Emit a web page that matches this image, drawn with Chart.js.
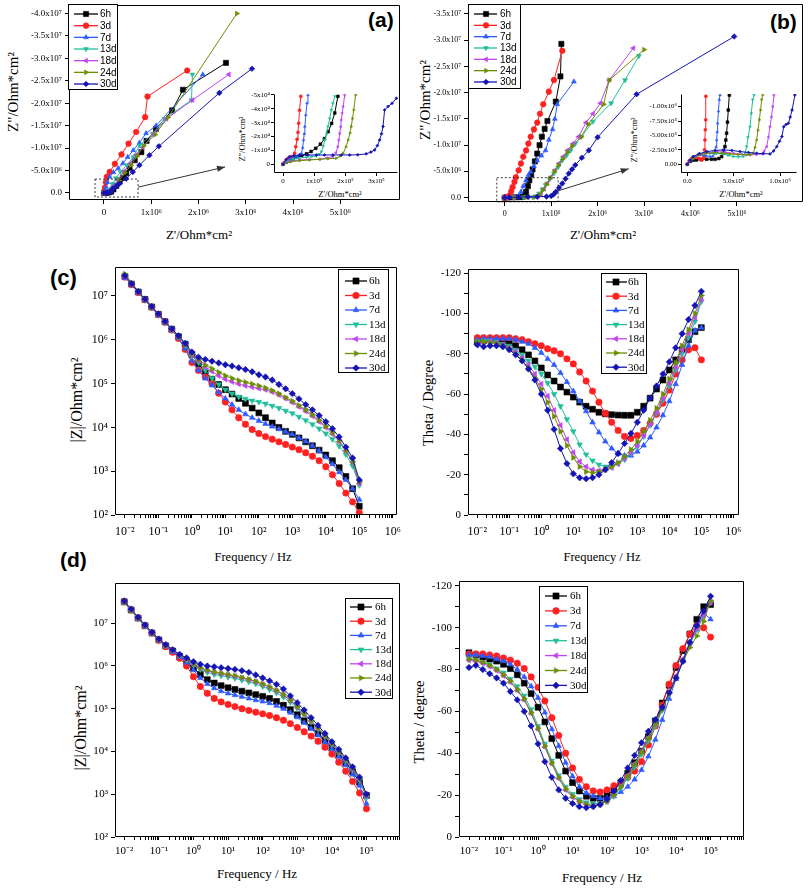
<!DOCTYPE html>
<html>
<head>
<meta charset="utf-8">
<title>EIS Nyquist and Bode plots</title>
<script src="https://cdn.jsdelivr.net/npm/chart.js@4.4.1/dist/chart.umd.min.js"></script>
<style>
  body { margin: 0; background: #fff; }
  #fig { position: relative; width: 808px; height: 888px; overflow: hidden; background: #fff; }
  #fig canvas { position: absolute; }
  .ttl { position: absolute; font-family: "Liberation Serif", "Times New Roman", serif; color: #000; white-space: nowrap; line-height: 1; transform: translate(-50%, -50%); }
  .ttl.rot { transform: translate(-50%, -50%) rotate(-90deg); }
  .tag { position: absolute; font-family: "Liberation Sans", Arial, sans-serif; font-weight: bold; font-size: 21px; line-height: 1; color: #000; }
</style>
</head>
<body>
<div id="fig">
  <div class="ttl rot" style="left:13px;top:92px;font-size:15px">Z"/Ohm*cm²</div>
  <div class="ttl" style="left:199px;top:234px;font-size:13px">Z'/Ohm*cm²</div>
  <div class="ttl rot" style="left:242px;top:139px;font-size:8.5px">Z"/Ohm*cm²</div>
  <div class="ttl" style="left:340px;top:194px;font-size:8.5px">Z'/Ohm*cm²</div>
  <div class="ttl rot" style="left:425px;top:100px;font-size:15px">Z"/Ohm*cm²</div>
  <div class="ttl" style="left:603px;top:234px;font-size:13px">Z'/Ohm*cm²</div>
  <div class="ttl rot" style="left:634px;top:140px;font-size:8.5px">Z"/Ohm*cm²</div>
  <div class="ttl" style="left:741px;top:194px;font-size:8.5px">Z'/Ohm*cm²</div>
  <div class="ttl rot" style="left:77px;top:400px;font-size:16px">|Z|/Ohm*cm²</div>
  <div class="ttl" style="left:253px;top:557px;font-size:12.5px">Frequency / Hz</div>
  <div class="ttl rot" style="left:428px;top:403px;font-size:14.5px">Theta / Degree</div>
  <div class="ttl" style="left:602px;top:557px;font-size:12.5px">Frequency / Hz</div>
  <div class="ttl rot" style="left:81px;top:728px;font-size:16px">|Z|/Ohm*cm²</div>
  <div class="ttl" style="left:257px;top:873px;font-size:13px">Frequency / Hz</div>
  <div class="ttl rot" style="left:419px;top:722px;font-size:14.5px">Theta / degree</div>
  <div class="ttl" style="left:602px;top:877px;font-size:13px">Frequency / Hz</div>
  <div class="tag" style="left:368px;top:9px">(a)</div>
  <div class="tag" style="left:770px;top:11px">(b)</div>
  <div class="tag" style="left:50px;top:267px;font-size:22px">(c)</div>
  <div class="tag" style="left:60px;top:549px">(d)</div>
</div>
<script>
'use strict';

Chart.defaults.font.family = '"Liberation Serif", "Times New Roman", serif';
Chart.defaults.color = '#000';

// series
const seriesNames = ['6h', '3d', '7d', '13d', '18d', '24d', '30d'];
const seriesColors = ['#000000', '#ff2020', '#2e5bff', '#20bf9c', '#c244f0', '#6c8f00', '#1414b4'];
const seriesMarkers = ['rect', 'circle', 'triangle', 'triangle', 'triangle', 'triangle', 'rectRot'];
const seriesMarkerTurn = [0, 0, 0, 180, 270, 90, 0];

// ---- (a) Nyquist, Z' and -Z'' (Ohm*cm2)
const reA6h = [0, 0.05e6, 0.1e6, 0.15e6, 0.2e6, 0.26e6, 0.33e6, 0.4e6, 0.47e6, 0.54e6, 0.65e6, 0.79e6, 0.9e6, 1.1e6, 1.44e6, 1.67e6, 2.58e6];
const imA6h = [0, 0.003e7, 0.01e7, 0.03e7, 0.08e7, 0.16e7, 0.25e7, 0.34e7, 0.44e7, 0.56e7, 0.73e7, 0.91e7, 1.16e7, 1.43e7, 1.84e7, 2.3e7, 2.9e7];
const reA3d = [0, 0.01e6, 0.02e6, 0.04e6, 0.06e6, 0.12e6, 0.23e6, 0.37e6, 0.52e6, 0.68e6, 0.87e6, 0.92e6, 1.76e6];
const imA3d = [0, 0.05e7, 0.12e7, 0.24e7, 0.36e7, 0.47e7, 0.65e7, 0.86e7, 1.1e7, 1.36e7, 1.69e7, 2.15e7, 2.73e7];
const reA7d = [0, 0.02e6, 0.04e6, 0.07e6, 0.12e6, 0.2e6, 0.3e6, 0.4e6, 0.5e6, 0.62e6, 0.75e6, 0.89e6, 1.1e6, 2.09e6];
const imA7d = [0, 0.04e7, 0.12e7, 0.24e7, 0.36e7, 0.46e7, 0.55e7, 0.66e7, 0.8e7, 0.95e7, 1.12e7, 1.33e7, 1.5e7, 2.64e7];
const reA13d = [0, 0.05e6, 0.1e6, 0.18e6, 0.25e6, 0.35e6, 0.48e6, 0.62e6, 0.75e6, 1.03e6, 1.28e6, 1.85e6, 1.87e6];
const imA13d = [0, 0.03e7, 0.08e7, 0.2e7, 0.33e7, 0.47e7, 0.62e7, 0.8e7, 1.06e7, 1.32e7, 1.65e7, 2.07e7, 2.64e7];
const reA18d = [0, 0.06e6, 0.12e6, 0.2e6, 0.3e6, 0.42e6, 0.55e6, 0.68e6, 0.82e6, 1.05e6, 1.32e6, 1.87e6, 2.64e6];
const imA18d = [0, 0.02e7, 0.06e7, 0.15e7, 0.3e7, 0.48e7, 0.65e7, 0.85e7, 1.02e7, 1.32e7, 1.65e7, 2.07e7, 2.64e7];
const reA24d = [0, 0.07e6, 0.14e6, 0.22e6, 0.32e6, 0.44e6, 0.57e6, 0.7e6, 0.84e6, 1.08e6, 1.35e6, 2.81e6];
const imA24d = [0, 0.01e7, 0.04e7, 0.12e7, 0.28e7, 0.45e7, 0.62e7, 0.82e7, 1.05e7, 1.3e7, 1.68e7, 4.0e7];
const reA30d = [0, 0.04e6, 0.08e6, 0.12e6, 0.16e6, 0.19e6, 0.26e6, 0.33e6, 0.47e6, 0.61e6, 0.75e6, 0.96e6, 1.16e6, 2.44e6, 3.13e6];
const imA30d = [0, 0.005e7, 0.01e7, 0.02e7, 0.04e7, 0.1e7, 0.15e7, 0.21e7, 0.32e7, 0.47e7, 0.62e7, 0.84e7, 1.04e7, 2.23e7, 2.77e7];

// (a) inset
const reAi6h = [0, 0.1e5, 0.2e5, 0.32e5, 0.45e5, 0.6e5, 0.75e5, 0.9e5, 1.05e5, 1.2e5, 1.33e5, 1.45e5, 1.56e5, 1.66e5, 1.76e5];
const imAi6h = [0, 0.15e4, 0.28e4, 0.38e4, 0.5e4, 0.62e4, 0.75e4, 0.92e4, 1.15e4, 1.45e4, 1.85e4, 2.35e4, 2.95e4, 3.7e4, 4.9e4];
const reAi3d = [0, 0.05e5, 0.11e5, 0.16e5, 0.21e5, 0.27e5, 0.32e5, 0.37e5, 0.41e5, 0.45e5, 0.48e5, 0.5e5, 0.53e5, 0.57e5];
const imAi3d = [0, 0.15e4, 0.31e4, 0.42e4, 0.5e4, 0.54e4, 0.55e4, 0.8e4, 1.27e4, 1.8e4, 2.3e4, 2.96e4, 3.9e4, 4.9e4];
const reAi7d = [0, 0.1e5, 0.21e5, 0.32e5, 0.43e5, 0.52e5, 0.59e5, 0.63e5, 0.66e5, 0.68e5, 0.7e5, 0.73e5, 0.77e5, 0.8e5];
const imAi7d = [0, 0.2e4, 0.36e4, 0.47e4, 0.55e4, 0.66e4, 0.79e4, 1.2e4, 1.75e4, 2.2e4, 2.72e4, 3.56e4, 4.4e4, 5.0e4];
const reAi13d = [0, 0.15e5, 0.32e5, 0.5e5, 0.75e5, 0.92e5, 1.07e5, 1.16e5, 1.23e5, 1.29e5, 1.34e5, 1.4e5, 1.44e5, 1.5e5, 1.55e5, 1.6e5, 1.66e5];
const imAi13d = [0, 0.22e4, 0.36e4, 0.44e4, 0.5e4, 0.55e4, 0.6e4, 0.72e4, 0.91e4, 1.3e4, 1.75e4, 2.2e4, 2.72e4, 3.3e4, 3.92e4, 4.4e4, 4.9e4];
const reAi18d = [0, 0.2e5, 0.53e5, 0.85e5, 1.18e5, 1.4e5, 1.6e5, 1.7e5, 1.76e5, 1.79e5, 1.82e5, 1.85e5, 1.87e5, 1.9e5, 1.93e5, 1.98e5];
const imAi18d = [0, 0.2e4, 0.31e4, 0.34e4, 0.36e4, 0.45e4, 0.55e4, 0.85e4, 1.27e4, 1.75e4, 2.23e4, 2.7e4, 3.2e4, 3.7e4, 4.16e4, 5.0e4];
const reAi24d = [0, 0.25e5, 0.53e5, 0.85e5, 1.18e5, 1.45e5, 1.71e5, 1.83e5, 1.93e5, 2.02e5, 2.09e5, 2.15e5, 2.19e5, 2.23e5, 2.27e5, 2.33e5];
const imAi24d = [0, 0.18e4, 0.26e4, 0.31e4, 0.36e4, 0.4e4, 0.43e4, 0.58e4, 0.79e4, 1.25e4, 1.75e4, 2.25e4, 2.72e4, 3.3e4, 3.92e4, 5.0e4];
const reAi30d = [0, 0.1e5, 0.21e5, 0.35e5, 0.53e5, 0.8e5, 1.07e5, 1.33e5, 1.6e5, 1.87e5, 2.14e5, 2.4e5, 2.67e5, 2.82e5, 2.94e5, 3.03e5, 3.1e5, 3.16e5, 3.21e5, 3.26e5, 3.37e5, 3.5e5, 3.64e5];
const imAi30d = [0, 0.35e4, 0.55e4, 0.62e4, 0.67e4, 0.67e4, 0.67e4, 0.67e4, 0.67e4, 0.67e4, 0.67e4, 0.68e4, 0.75e4, 0.88e4, 1.03e4, 1.35e4, 1.75e4, 2.2e4, 2.72e4, 3.92e4, 4.16e4, 4.4e4, 4.76e4];

// ---- (b) Nyquist
const reB6h = [0, 0.05e6, 0.15e6, 0.25e6, 0.35e6, 0.4e6, 0.44e6, 0.46e6, 0.5e6, 0.53e6, 0.57e6, 0.6e6, 0.65e6, 0.7e6, 0.75e6, 0.8e6, 0.86e6, 0.92e6, 1.1e6, 1.2e6, 1.22e6];
const imB6h = [0, 0.005e7, 0.005e7, 0.008e7, 0.01e7, 0.02e7, 0.05e7, 0.11e7, 0.22e7, 0.33e7, 0.44e7, 0.54e7, 0.69e7, 0.84e7, 1.0e7, 1.16e7, 1.31e7, 1.46e7, 1.83e7, 2.31e7, 2.93e7];
const reB3d = [0, 0.05e6, 0.1e6, 0.14e6, 0.17e6, 0.21e6, 0.24e6, 0.3e6, 0.35e6, 0.4e6, 0.46e6, 0.51e6, 0.56e6, 0.63e6, 0.7e6, 0.76e6, 0.83e6, 0.95e6, 1.06e6, 1.24e6];
const imB3d = [0, 0.005e7, 0.04e7, 0.12e7, 0.2e7, 0.3e7, 0.39e7, 0.52e7, 0.65e7, 0.78e7, 0.9e7, 1.03e7, 1.16e7, 1.3e7, 1.43e7, 1.6e7, 1.78e7, 2.02e7, 2.24e7, 2.8e7];
const reB7d = [0, 0.1e6, 0.2e6, 0.3e6, 0.35e6, 0.4e6, 0.46e6, 0.51e6, 0.56e6, 0.63e6, 0.7e6, 0.79e6, 0.88e6, 0.95e6, 1.03e6, 1.08e6, 1.13e6, 1.49e6];
const imB7d = [0, 0.005e7, 0.01e7, 0.03e7, 0.11e7, 0.22e7, 0.33e7, 0.43e7, 0.49e7, 0.6e7, 0.71e7, 0.8e7, 0.9e7, 1.1e7, 1.3e7, 1.5e7, 1.78e7, 2.21e7];
const reB13d = [0, 0.2e6, 0.4e6, 0.6e6, 0.7e6, 0.74e6, 0.81e6, 0.88e6, 0.97e6, 1.06e6, 1.15e6, 1.24e6, 1.33e6, 1.42e6, 1.52e6, 1.65e6, 1.9e6, 2.29e6, 2.59e6, 2.89e6];
const imB13d = [0, 0.005e7, 0.008e7, 0.01e7, 0.03e7, 0.08e7, 0.16e7, 0.24e7, 0.35e7, 0.46e7, 0.58e7, 0.71e7, 0.8e7, 0.9e7, 1.03e7, 1.16e7, 1.45e7, 1.8e7, 2.24e7, 2.7e7];
const reB18d = [0, 0.2e6, 0.5e6, 0.7e6, 0.78e6, 0.85e6, 0.92e6, 0.99e6, 1.08e6, 1.17e6, 1.26e6, 1.35e6, 1.47e6, 1.59e6, 1.75e6, 1.9e6, 2.06e6, 2.25e6, 2.77e6];
const imB18d = [0, 0.005e7, 0.01e7, 0.02e7, 0.06e7, 0.17e7, 0.28e7, 0.39e7, 0.52e7, 0.65e7, 0.78e7, 0.9e7, 1.03e7, 1.16e7, 1.43e7, 1.6e7, 1.8e7, 2.24e7, 2.85e7];
const reB24d = [0, 0.2e6, 0.45e6, 0.65e6, 0.75e6, 0.82e6, 0.9e6, 0.98e6, 1.07e6, 1.16e6, 1.25e6, 1.35e6, 1.45e6, 1.65e6, 1.8e6, 2.13e6, 2.25e6, 3.0e6];
const imB24d = [0, 0.005e7, 0.008e7, 0.012e7, 0.05e7, 0.14e7, 0.25e7, 0.37e7, 0.5e7, 0.62e7, 0.74e7, 0.86e7, 0.98e7, 1.16e7, 1.4e7, 1.78e7, 2.24e7, 2.82e7];
const reB30d = [0, 0.1e6, 0.3e6, 0.5e6, 0.7e6, 0.9e6, 1.0e6, 1.05e6, 1.1e6, 1.17e6, 1.24e6, 1.31e6, 1.38e6, 1.45e6, 1.52e6, 1.66e6, 1.81e6, 2.0e6, 2.84e6, 4.94e6];
const imB30d = [0, 0.005e7, 0.01e7, 0.015e7, 0.018e7, 0.02e7, 0.03e7, 0.06e7, 0.11e7, 0.19e7, 0.27e7, 0.36e7, 0.46e7, 0.54e7, 0.62e7, 0.76e7, 0.9e7, 1.15e7, 1.97e7, 3.07e7];

// (b) inset
const reBi6h = [0, 0.3e5, 0.65e5, 1.0e5, 1.5e5, 2.09e5, 2.6e5, 2.99e5, 3.4e5, 3.7e5, 3.95e5, 4.06e5, 4.15e5, 4.24e5, 4.33e5, 4.42e5, 4.53e5];
const imBi6h = [0, 0.5e5, 0.7e5, 0.75e5, 0.82e5, 0.87e5, 0.87e5, 0.87e5, 1.0e5, 1.33e5, 2.0e5, 3.06e5, 4.2e5, 5.38e5, 7.3e5, 9.4e5, 12.0e5];
const reBi3d = [0, 0.2e5, 0.47e5, 0.75e5, 1.0e5, 1.3e5, 1.55e5, 1.7e5, 1.8e5, 1.85e5, 1.9e5, 1.94e5, 1.98e5, 2.0e5];
const imBi3d = [0, 0.6e5, 1.04e5, 1.18e5, 1.21e5, 1.0e5, 0.75e5, 0.95e5, 1.33e5, 2.5e5, 4.2e5, 6.0e5, 7.7e5, 11.8e5];
const reBi7d = [0, 0.3e5, 0.65e5, 1.1e5, 1.55e5, 2.0e5, 2.45e5, 2.75e5, 2.99e5, 3.1e5, 3.17e5, 3.22e5, 3.27e5, 3.36e5, 3.45e5, 3.53e5];
const imBi7d = [0, 0.75e5, 1.33e5, 1.55e5, 1.62e5, 1.5e5, 1.33e5, 1.4e5, 1.9e5, 3.0e5, 4.2e5, 5.6e5, 7.1e5, 9.2e5, 11.2e5, 12.0e5];
const reBi13d = [0, 0.45e5, 1.0e5, 1.7e5, 2.45e5, 3.15e5, 3.88e5, 4.4e5, 4.96e5, 5.5e5, 6.04e5, 6.25e5, 6.4e5, 6.55e5, 6.76e5, 6.9e5, 7.05e5, 7.19e5];
const imBi13d = [0, 0.85e5, 1.45e5, 1.75e5, 1.9e5, 1.88e5, 1.8e5, 1.55e5, 1.33e5, 1.3e5, 1.33e5, 2.0e5, 3.06e5, 4.7e5, 6.5e5, 8.8e5, 11.2e5, 12.0e5];
const reBi18d = [0, 0.6e5, 1.37e5, 2.25e5, 3.17e5, 4.05e5, 4.96e5, 5.85e5, 6.76e5, 7.4e5, 8.02e5, 8.3e5, 8.56e5, 8.75e5, 8.92e5, 9.07e5, 9.21e5, 9.35e5];
const imBi18d = [0, 0.95e5, 1.62e5, 2.0e5, 2.2e5, 2.1e5, 1.9e5, 1.75e5, 1.62e5, 1.7e5, 1.8e5, 2.3e5, 3.06e5, 4.7e5, 6.5e5, 8.2e5, 10.0e5, 12.0e5];
const reBi24d = [0, 0.55e5, 1.19e5, 2.0e5, 2.81e5, 3.7e5, 4.6e5, 5.5e5, 6.4e5, 6.8e5, 7.12e5, 7.3e5, 7.48e5, 7.62e5, 7.77e5, 7.9e5, 8.02e5, 8.13e5];
const imBi24d = [0, 0.9e5, 1.62e5, 1.9e5, 2.02e5, 1.95e5, 1.8e5, 1.7e5, 1.62e5, 1.7e5, 1.9e5, 2.9e5, 4.2e5, 5.9e5, 7.7e5, 9.4e5, 11.2e5, 12.0e5];
const reBi30d = [0, 0.3e5, 0.65e5, 1.3e5, 2.09e5, 3.0e5, 3.88e5, 4.8e5, 5.68e5, 6.6e5, 7.48e5, 8.2e5, 8.92e5, 9.3e5, 9.64e5, 9.95e5, 10.2e5, 10.4e5, 10.65e5, 10.9e5, 11.1e5, 11.3e5, 11.6e5];
const imBi30d = [0, 0.7e5, 1.33e5, 1.85e5, 2.2e5, 2.4e5, 2.49e5, 2.4e5, 2.2e5, 2.05e5, 1.9e5, 1.85e5, 1.8e5, 2.3e5, 3.06e5, 4.0e5, 4.8e5, 6.5e5, 6.9e5, 7.1e5, 8.2e5, 9.4e5, 12.0e5];

// ---- Bode: frequency (Hz)
const freq = [0.01, 0.0158, 0.0251, 0.0398, 0.0631, 0.1, 0.158, 0.251, 0.398, 0.631,
  1, 1.58, 2.51, 3.98, 6.31, 10, 15.8, 25.1, 39.8, 63.1,
  100, 158, 251, 398, 631, 1000, 1580, 2510, 3980, 6310,
  10000, 15800, 25100, 39800, 63100, 100000];

// (c) |Z|: log10(|Z| / Ohm*cm2)
const logZc6h = [7.44, 7.27, 7.09, 6.92, 6.75, 6.58, 6.41, 6.24, 6.07, 5.9, 5.66, 5.45, 5.25, 5.1, 4.98, 4.86, 4.76, 4.66, 4.55, 4.44, 4.33, 4.22, 4.1, 4.0, 3.91, 3.84, 3.76, 3.67, 3.58, 3.48, 3.37, 3.24, 3.08, 2.88, 2.6, 2.2];
const logZc3d = [7.43, 7.26, 7.08, 6.91, 6.74, 6.57, 6.4, 6.22, 6.03, 5.78, 5.48, 5.3, 5.15, 5.0, 4.78, 4.58, 4.4, 4.22, 4.07, 3.95, 3.86, 3.79, 3.73, 3.67, 3.61, 3.55, 3.49, 3.42, 3.34, 3.24, 3.1, 2.92, 2.72, 2.5, 2.3, 2.05];
const logZc7d = [7.42, 7.26, 7.08, 6.9, 6.73, 6.56, 6.39, 6.22, 6.04, 5.8, 5.52, 5.3, 5.12, 4.96, 4.8, 4.66, 4.52, 4.4, 4.3, 4.22, 4.15, 4.08, 4.02, 3.96, 3.9, 3.84, 3.76, 3.68, 3.58, 3.46, 3.32, 3.16, 2.98, 2.8, 2.6, 2.35];
const logZc13d = [7.45, 7.27, 7.09, 6.91, 6.74, 6.57, 6.4, 6.23, 6.06, 5.88, 5.64, 5.48, 5.3, 5.12, 4.98, 4.86, 4.77, 4.7, 4.65, 4.61, 4.58, 4.54, 4.49, 4.44, 4.38, 4.32, 4.24, 4.16, 4.07, 3.97, 3.86, 3.73, 3.57, 3.38, 3.12, 2.68];
const logZc18d = [7.44, 7.27, 7.09, 6.91, 6.74, 6.57, 6.4, 6.23, 6.07, 5.9, 5.66, 5.52, 5.38, 5.28, 5.18, 5.1, 5.04, 4.99, 4.95, 4.92, 4.89, 4.86, 4.81, 4.74, 4.66, 4.57, 4.47, 4.37, 4.26, 4.13, 4.0, 3.85, 3.67, 3.46, 3.2, 2.72];
const logZc24d = [7.5, 7.3, 7.1, 6.92, 6.75, 6.58, 6.41, 6.24, 6.08, 5.9, 5.68, 5.55, 5.42, 5.34, 5.26, 5.18, 5.12, 5.07, 5.03, 4.99, 4.95, 4.9, 4.84, 4.77, 4.68, 4.6, 4.5, 4.4, 4.29, 4.16, 4.03, 3.88, 3.7, 3.48, 3.22, 2.76];
const logZc30d = [7.46, 7.28, 7.1, 6.93, 6.76, 6.59, 6.42, 6.25, 6.09, 5.92, 5.72, 5.6, 5.55, 5.51, 5.47, 5.43, 5.4, 5.36, 5.32, 5.27, 5.2, 5.15, 5.08, 4.98, 4.88, 4.77, 4.65, 4.52, 4.4, 4.27, 4.13, 3.97, 3.78, 3.55, 3.3, 2.8];

// (c) phase angle, plotted as |theta| (degrees, axis labelled negative)
const phC6h = [86, 86.5, 87, 87, 86.5, 85.5, 84, 82, 79.5, 76.5, 73, 69.5, 66.5, 63.5, 61, 58.5, 56, 54, 52.5, 51, 50.2, 49.8, 49.6, 49.5, 49.5, 51, 54, 58, 62.5, 67, 72, 77, 82, 87, 91, 93];
const phC3d = [88, 88, 88, 88, 88, 88, 87.5, 87, 86, 85, 84, 82.5, 81.5, 80, 77.5, 75, 71, 66.5, 61.5, 56, 50.5, 46, 42, 39, 38, 39.5, 42, 45.5, 50, 55.5, 62, 70, 77, 82, 83, 77];
const phC7d = [87, 87.5, 87.5, 87.5, 87.5, 87.5, 87, 86, 85, 83, 80.5, 77.5, 74.5, 70.5, 66, 61.5, 56.5, 51.5, 46, 41, 36.5, 33, 30.5, 29.5, 29.5, 31.5, 34.5, 38.5, 43.5, 49.5, 56.5, 65, 74.5, 84, 91.5, 93];
const phC13d = [86, 86.5, 86.5, 86, 85, 84, 82, 79.5, 76.5, 73.5, 70, 65.5, 60, 54, 47.5, 41.5, 35, 30, 27, 25, 24, 24.5, 25.5, 27.5, 30.5, 34, 39, 44.5, 50.5, 57, 64, 72, 80, 88, 96, 106];
const phC18d = [84.5, 85.5, 86, 85.5, 84.5, 83, 81, 78, 74.5, 70, 65, 59, 52, 44.5, 37.5, 31, 26.5, 24, 22.5, 22, 22.5, 23.5, 25.5, 28, 31, 34.5, 39.5, 45, 51, 58, 65.5, 73.5, 82, 90, 98, 107];
const phC24d = [86, 86, 85.5, 85, 84, 82.5, 80, 77, 73, 68, 62.5, 56, 49, 41.5, 34.5, 28.5, 24, 21.5, 21, 21.5, 22.5, 24, 26, 29, 32.5, 36.5, 41.5, 47, 53, 60, 67.5, 75.5, 84, 92, 100, 109];
const phC30d = [84.5, 83.5, 84, 84, 83.5, 82, 79.5, 76.5, 72.5, 67, 60, 52, 42.5, 33, 25.5, 20.5, 18.5, 18, 18.5, 20, 22.5, 26, 30.5, 35.5, 40.5, 46, 52, 58, 64, 70, 76, 83, 90, 97, 104, 111];

// (d) log10 |Z|
const logZd6h = [7.5, 7.31, 7.12, 6.94, 6.77, 6.61, 6.47, 6.35, 6.22, 6.1, 5.95, 5.8, 5.68, 5.6, 5.54, 5.49, 5.45, 5.41, 5.37, 5.33, 5.29, 5.24, 5.17, 5.08, 4.98, 4.86, 4.72, 4.57, 4.42, 4.26, 4.1, 3.92, 3.73, 3.52, 3.28, 2.97];
const logZd3d = [7.5, 7.31, 7.12, 6.94, 6.77, 6.6, 6.45, 6.32, 6.18, 6.0, 5.75, 5.52, 5.36, 5.24, 5.16, 5.1, 5.05, 5.0, 4.96, 4.92, 4.88, 4.84, 4.79, 4.73, 4.65, 4.56, 4.46, 4.36, 4.24, 4.1, 3.94, 3.75, 3.54, 3.3, 3.03, 2.66];
const logZd7d = [7.48, 7.3, 7.11, 6.93, 6.76, 6.6, 6.46, 6.33, 6.21, 6.08, 5.9, 5.72, 5.58, 5.48, 5.41, 5.36, 5.32, 5.28, 5.24, 5.2, 5.17, 5.13, 5.07, 5.0, 4.91, 4.8, 4.67, 4.53, 4.38, 4.22, 4.06, 3.88, 3.68, 3.46, 3.2, 2.78];
const logZd13d = [7.5, 7.31, 7.12, 6.94, 6.78, 6.62, 6.48, 6.36, 6.25, 6.14, 6.02, 5.92, 5.85, 5.8, 5.77, 5.74, 5.71, 5.67, 5.63, 5.58, 5.52, 5.45, 5.37, 5.27, 5.15, 5.01, 4.86, 4.7, 4.53, 4.35, 4.17, 3.98, 3.79, 3.57, 3.33, 2.92];
const logZd18d = [7.51, 7.32, 7.13, 6.95, 6.78, 6.62, 6.48, 6.36, 6.26, 6.15, 6.04, 5.95, 5.89, 5.85, 5.82, 5.79, 5.76, 5.72, 5.68, 5.63, 5.57, 5.5, 5.42, 5.32, 5.19, 5.04, 4.88, 4.71, 4.54, 4.36, 4.18, 3.99, 3.8, 3.58, 3.34, 2.96];
const logZd24d = [7.49, 7.3, 7.12, 6.95, 6.78, 6.62, 6.48, 6.37, 6.26, 6.16, 6.05, 5.96, 5.9, 5.86, 5.83, 5.8, 5.77, 5.73, 5.69, 5.64, 5.58, 5.51, 5.43, 5.33, 5.2, 5.05, 4.89, 4.72, 4.55, 4.37, 4.19, 4.0, 3.81, 3.6, 3.36, 2.98];
const logZd30d = [7.52, 7.33, 7.14, 6.96, 6.79, 6.63, 6.5, 6.38, 6.27, 6.19, 6.1, 6.04, 6.0, 5.98, 5.96, 5.94, 5.92, 5.89, 5.85, 5.79, 5.72, 5.65, 5.57, 5.46, 5.3, 5.14, 4.97, 4.79, 4.61, 4.42, 4.23, 4.05, 3.85, 3.64, 3.4, 3.0];

// (d) phase, |theta|
const phD6h = [88, 87, 86, 85, 84, 82.5, 80.5, 77.5, 73.5, 68.5, 62, 55, 47, 39, 31.5, 26, 22, 19.5, 18.5, 18.5, 20, 22.5, 26, 30.5, 35.5, 41, 48, 55.5, 64, 72.5, 81, 89, 97, 104, 110, 111];
const phD3d = [87.5, 87.5, 87.5, 87, 86.5, 85.5, 84.5, 83, 80.5, 76.5, 71.5, 65, 57, 48.5, 40, 33, 27.5, 24, 22, 21.5, 22.5, 24.5, 26, 28.5, 31.5, 36, 44, 53, 63, 73, 82, 90, 97, 101, 100, 95.5];
const phD7d = [87, 87, 86.5, 86, 85, 84, 82.5, 80, 76.5, 72, 66.5, 59.5, 51.5, 43.5, 35.5, 29, 24, 21, 19.5, 18.5, 18.5, 19.5, 21.5, 24, 27.5, 32, 38.5, 46.5, 56, 66, 75.5, 84.5, 93, 101, 107, 104];
const phD13d = [85, 84.5, 83.5, 82.5, 80.5, 78.5, 75.5, 72, 67.5, 61, 53, 44.5, 36.5, 29.5, 24, 20.5, 18, 16.5, 16, 16, 17, 19.5, 23.5, 28, 33.5, 39.5, 46, 53, 60.5, 68.5, 76.5, 84.5, 92, 99, 105.5, 112];
const phD18d = [84.5, 84, 83, 81.5, 79.5, 77, 74, 70, 65.5, 59, 51.5, 43, 35, 28, 22.5, 19, 17, 15.5, 15, 15.5, 17, 20, 24.5, 29.5, 35, 41, 47.5, 54.5, 61.5, 69, 77, 85, 92.5, 99.5, 106, 112];
const phD24d = [85, 84.5, 83.5, 82, 80, 77.5, 74.5, 70.5, 66, 59.5, 52, 43.5, 35.5, 28.5, 23, 19.5, 17, 15.5, 15, 15.5, 17, 20, 24, 29, 34.5, 40.5, 47, 54, 61, 68.5, 76, 83.5, 90.5, 96, 103, 113];
const phD30d = [81, 82, 80, 78, 76, 73.5, 69.5, 65.5, 60, 53, 44.5, 36, 28.5, 22.5, 18.5, 16, 14.5, 14, 14.5, 15.5, 18, 22, 27, 33, 39, 45, 50.5, 56, 62, 69, 76, 84, 93, 101, 108, 115];

// ---- tick values and labels
const reTicksMain = [0, 1e6, 2e6, 3e6, 4e6, 5e6];
const reLabelsMain = ['0', '1x10⁶', '2x10⁶', '3x10⁶', '4x10⁶', '5x10⁶'];
const imTicksA = [0, 0.5e7, 1.0e7, 1.5e7, 2.0e7, 2.5e7, 3.0e7, 3.5e7, 4.0e7];
const imLabelsA = ['0.0', '-5.0x10⁶', '-1.0x10⁷', '-1.5x10⁷', '-2.0x10⁷', '-2.5x10⁷', '-3.0x10⁷', '-3.5x10⁷', '-4.0x10⁷'];
const imTicksB = [0, 0.5e7, 1.0e7, 1.5e7, 2.0e7, 2.5e7, 3.0e7, 3.5e7];
const imLabelsB = ['0.0', '-5.0x10⁶', '-1.0x10⁷', '-1.5x10⁷', '-2.0x10⁷', '-2.5x10⁷', '-3.0x10⁷', '-3.5x10⁷'];
const reTicksAin = [0, 1e5, 2e5, 3e5];
const reLabelsAin = ['0', '1x10⁵', '2x10⁵', '3x10⁵'];
const imTicksAin = [0, 1e4, 2e4, 3e4, 4e4, 5e4];
const imLabelsAin = ['0', '-1x10⁴', '-2x10⁴', '-3x10⁴', '-4x10⁴', '-5x10⁴'];
const reTicksBin = [0, 5e5, 1e6];
const reLabelsBin = ['0.0', '5.0x10⁵', '1.0x10⁶'];
const imTicksBin = [0, 2.5e5, 5e5, 7.5e5, 1e6];
const imLabelsBin = ['0.00', '-2.50x10⁵', '-5.00x10⁵', '-7.50x10⁵', '-1.00x10⁶'];
const freqTicks = [0.01, 0.1, 1, 10, 100, 1e3, 1e4, 1e5, 1e6];
const freqLabels = ['10⁻²', '10⁻¹', '10⁰', '10¹', '10²', '10³', '10⁴', '10⁵', '10⁶'];
const zTicks = [1e2, 1e3, 1e4, 1e5, 1e6, 1e7];
const zLabels = ['10²', '10³', '10⁴', '10⁵', '10⁶', '10⁷'];
const thetaTicks = [0, 20, 40, 60, 80, 100, 120];
const thetaLabels = ['0', '-20', '-40', '-60', '-80', '-100', '-120'];

// minor tick marks (no labels)
const freqMinor = [];
for (let d = 0.01; d < 1e6; d *= 10) {
  for (let m = 2; m <= 9; m++) freqMinor.push(d * m);
}
const thetaMinor = [10, 30, 50, 70, 90, 110];

const fig = document.getElementById('fig');

function series(xs, ys, i, r) {
  return {
    label: seriesNames[i],
    data: xs.map((x, k) => ({ x: x, y: ys[k] })),
    showLine: true,
    borderColor: seriesColors[i],
    backgroundColor: seriesColors[i],
    borderWidth: 1,
    pointStyle: seriesMarkers[i],
    pointRotation: seriesMarkerTurn[i],
    pointRadius: seriesMarkers[i] === 'rect' ? r * 1.3 : r,
    pointBorderWidth: 0.6,
    order: 6 - i
  };
}

function lookupLabel(spec, v) {
  for (let k = 0; k < spec.major.length; k++) {
    const m = spec.major[k];
    if (Math.abs(m - v) <= Math.abs(m) * 1e-6 + 1e-9) return spec.labels[k];
  }
  return '';
}

function scaleOptions(spec, side, size) {
  const all = spec.major.concat(spec.minor || [])
    .filter(v => v >= spec.min && v <= spec.max)
    .sort((p, q) => p - q);
  return {
    type: spec.type || 'linear',
    min: spec.min,
    max: spec.max,
    border: { display: false },
    grid: { drawOnChartArea: false, drawTicks: true, tickLength: spec.tickLen || 4, color: '#000', lineWidth: 1 },
    ticks: {
      autoSkip: false, maxRotation: 0, minRotation: 0,
      padding: spec.pad === undefined ? 2 : spec.pad,
      color: '#000',
      font: { size: spec.font },
      callback: v => lookupLabel(spec, v)
    },
    afterBuildTicks: s => { s.ticks = all.map(v => ({ value: v })); },
    afterFit: s => { if (side === 'y') s.width = size; else s.height = size; }
  };
}

function framePlugin(mode) {
  return {
    id: 'frame',
    afterDraw(chart) {
      const a = chart.chartArea, ctx = chart.ctx;
      const l = Math.round(a.left) + 0.5, r = Math.round(a.right) - 0.5;
      const t = Math.round(a.top) + 0.5, b = Math.round(a.bottom) - 0.5;
      ctx.save();
      ctx.strokeStyle = '#000';
      ctx.lineWidth = 1;
      ctx.beginPath();
      ctx.moveTo(l, t);
      ctx.lineTo(l, b);
      ctx.lineTo(r, b);
      if (mode === 'box') {
        ctx.lineTo(r, t);
        ctx.closePath();
      }
      ctx.stroke();
      ctx.restore();
    }
  };
}

function legendPlugin(lg, ox, oy) {
  return {
    id: 'boxLegend',
    afterDraw(chart) {
      const ctx = chart.ctx;
      ctx.save();
      ctx.fillStyle = '#fff';
      ctx.fillRect(lg.box[0] - ox, lg.box[1] - oy, lg.box[2], lg.box[3]);
      ctx.strokeStyle = '#000';
      ctx.lineWidth = 1;
      ctx.strokeRect(lg.box[0] - ox + 0.5, lg.box[1] - oy + 0.5, lg.box[2], lg.box[3]);
      ctx.font = lg.font;
      ctx.textBaseline = 'middle';
      ctx.textAlign = 'left';
      seriesNames.forEach((name, i) => {
        const y = lg.row0 + i * lg.step - oy;
        ctx.strokeStyle = seriesColors[i];
        ctx.fillStyle = seriesColors[i];
        ctx.lineWidth = 1.3;
        ctx.beginPath();
        ctx.moveTo(lg.line[0] - ox, y);
        ctx.lineTo(lg.line[1] - ox, y);
        ctx.stroke();
        ctx.lineWidth = 0.6;
        const r = seriesMarkers[i] === 'rect' ? lg.r * 1.3 : lg.r;
        if (Chart.helpers && Chart.helpers.drawPoint) {
          Chart.helpers.drawPoint(ctx, { pointStyle: seriesMarkers[i], rotation: seriesMarkerTurn[i], radius: r, borderWidth: 0.6 }, lg.mark - ox, y);
        } else {
          ctx.beginPath();
          ctx.arc(lg.mark - ox, y, r, 0, Math.PI * 2);
          ctx.fill();
        }
        ctx.fillStyle = '#000';
        ctx.font = lg.font;
        ctx.fillText(name, lg.text - ox, y + 0.5);
      });
      ctx.restore();
    }
  };
}

function zoomBoxPlugin(z) {
  return {
    id: 'zoomBox',
    afterDatasetsDraw(chart) {
      const xs = chart.scales.x, ys = chart.scales.y, ctx = chart.ctx;
      const x0 = xs.getPixelForValue(z.re[0]), x1 = xs.getPixelForValue(z.re[1]);
      const y0 = ys.getPixelForValue(z.im[0]), y1 = ys.getPixelForValue(z.im[1]);
      ctx.save();
      ctx.strokeStyle = '#222';
      ctx.lineWidth = 0.9;
      ctx.setLineDash([2, 2]);
      ctx.strokeRect(x0, y1, x1 - x0, y0 - y1);
      ctx.setLineDash([]);
      const ax = xs.getPixelForValue(z.arrow[0]), ay = ys.getPixelForValue(z.arrow[1]);
      const bx = xs.getPixelForValue(z.arrow[2]), by = ys.getPixelForValue(z.arrow[3]);
      ctx.strokeStyle = '#333';
      ctx.lineWidth = 1;
      ctx.beginPath();
      ctx.moveTo(ax, ay);
      ctx.lineTo(bx, by);
      ctx.stroke();
      const ang = Math.atan2(by - ay, bx - ax);
      ctx.fillStyle = '#333';
      ctx.beginPath();
      ctx.moveTo(bx, by);
      ctx.lineTo(bx - 8 * Math.cos(ang) + 3 * Math.sin(ang), by - 8 * Math.sin(ang) - 3 * Math.cos(ang));
      ctx.lineTo(bx - 8 * Math.cos(ang) - 3 * Math.sin(ang), by - 8 * Math.sin(ang) + 3 * Math.cos(ang));
      ctx.closePath();
      ctx.fill();
      ctx.restore();
    }
  };
}

// p.box = target plot area in page pixels [left, top, right, bottom]
function makeChart(p) {
  const left = p.box[0] - p.yw, top = p.box[1] - p.padT;
  const w = p.yw + (p.box[2] - p.box[0]) + p.padR;
  const h = p.padT + (p.box[3] - p.box[1]) + p.xh;
  const cv = document.createElement('canvas');
  cv.width = w;
  cv.height = h;
  cv.style.left = left + 'px';
  cv.style.top = top + 'px';
  cv.style.width = w + 'px';
  cv.style.height = h + 'px';
  fig.appendChild(cv);
  const extras = [framePlugin(p.frame)];
  if (p.zoomBox) extras.push(zoomBoxPlugin(p.zoomBox));
  if (p.legend) extras.push(legendPlugin(p.legend, left, top));
  return new Chart(cv, {
    type: 'scatter',
    data: { datasets: p.datasets },
    options: {
      responsive: false,
      animation: false,
      devicePixelRatio: 1,
      layout: { padding: { left: 0, top: p.padT, right: p.padR, bottom: 0 } },
      plugins: { legend: { display: false }, tooltip: { enabled: false } },
      elements: { line: { tension: 0 } },
      scales: { x: scaleOptions(p.x, 'x', p.xh), y: scaleOptions(p.y, 'y', p.yw) }
    },
    plugins: extras
  });
}

const nyqA = [[reA6h, imA6h], [reA3d, imA3d], [reA7d, imA7d], [reA13d, imA13d], [reA18d, imA18d], [reA24d, imA24d], [reA30d, imA30d]];
const nyqAin = [[reAi6h, imAi6h], [reAi3d, imAi3d], [reAi7d, imAi7d], [reAi13d, imAi13d], [reAi18d, imAi18d], [reAi24d, imAi24d], [reAi30d, imAi30d]];
const nyqB = [[reB6h, imB6h], [reB3d, imB3d], [reB7d, imB7d], [reB13d, imB13d], [reB18d, imB18d], [reB24d, imB24d], [reB30d, imB30d]];
const nyqBin = [[reBi6h, imBi6h], [reBi3d, imBi3d], [reBi7d, imBi7d], [reBi13d, imBi13d], [reBi18d, imBi18d], [reBi24d, imBi24d], [reBi30d, imBi30d]];
const logZc = [logZc6h, logZc3d, logZc7d, logZc13d, logZc18d, logZc24d, logZc30d];
const phC = [phC6h, phC3d, phC7d, phC13d, phC18d, phC24d, phC30d];
const logZd = [logZd6h, logZd3d, logZd7d, logZd13d, logZd18d, logZd24d, logZd30d];
const phD = [phD6h, phD3d, phD7d, phD13d, phD18d, phD24d, phD30d];

const sansLegend = '10px "Liberation Sans", Arial, sans-serif';
const serifLegend = '11px "Liberation Serif", "Times New Roman", serif';

// (a)
makeChart({
  box: [69, 5, 400, 200], yw: 60, xh: 22, padT: 8, padR: 10, frame: 'box',
  x: { min: -0.74e6, max: 6.26e6, major: reTicksMain, labels: reLabelsMain, font: 9, pad: 3 },
  y: { min: -0.156e7, max: 4.18e7, major: imTicksA, labels: imLabelsA, font: 9, pad: 3 },
  datasets: nyqA.map((s, i) => series(s[0], s[1], i, 2.8)),
  zoomBox: { re: [-0.19e6, 0.72e6], im: [-0.09e7, 0.31e7], arrow: [0.72e6, 0.13e7, 2.56e6, 0.58e7] },
  legend: { box: [68, 4, 49, 85], row0: 14, step: 11.67, line: [74, 98], mark: 86, text: 100, font: sansLegend, r: 2.8 }
});
makeChart({
  box: [274, 94, 398, 173], yw: 36, xh: 12, padT: 6, padR: 10, frame: 'axes',
  x: { min: -0.29e5, max: 3.69e5, major: reTicksAin, labels: reLabelsAin, font: 7, pad: 1, tickLen: 3 },
  y: { min: -0.63e4, max: 5.07e4, major: imTicksAin, labels: imLabelsAin, font: 7, pad: 1, tickLen: 3 },
  datasets: nyqAin.map((s, i) => series(s[0], s[1], i, 1.5))
});

// (b)
makeChart({
  box: [468, 4, 806, 202], yw: 52, xh: 22, padT: 8, padR: 2, frame: 'box',
  x: { min: -0.79e6, max: 6.43e6, major: reTicksMain, labels: reLabelsMain, font: 8, pad: 3 },
  y: { min: -0.083e7, max: 3.69e7, major: imTicksB, labels: imLabelsB, font: 8, pad: 3 },
  datasets: nyqB.map((s, i) => series(s[0], s[1], i, 2.8)),
  zoomBox: { re: [-0.17e6, 1.15e6], im: [-0.08e7, 0.38e7], arrow: [1.15e6, 0.13e7, 2.67e6, 0.55e7] },
  legend: { box: [468, 4, 52, 84], row0: 14, step: 11.33, line: [474, 497], mark: 486, text: 500, font: sansLegend, r: 2.8 }
});
makeChart({
  box: [681, 94, 797, 173], yw: 50, xh: 12, padT: 6, padR: 10, frame: 'axes',
  x: { min: -0.068e6, max: 1.183e6, major: reTicksBin, labels: reLabelsBin, font: 7, pad: 1, tickLen: 3 },
  y: { min: -0.151e6, max: 1.218e6, major: imTicksBin, labels: imLabelsBin, font: 7, pad: 1, tickLen: 3 },
  datasets: nyqBin.map((s, i) => series(s[0], s[1], i, 1.5))
});

// (c)
makeChart({
  box: [115, 265, 400, 515], yw: 40, xh: 28, padT: 8, padR: 8, frame: 'box',
  x: { type: 'logarithmic', min: 0.00506, max: 1.38e6, major: freqTicks, labels: freqLabels, minor: freqMinor, font: 12, pad: 7, tickLen: 3 },
  y: { type: 'logarithmic', min: 100, max: 4.53e7, major: zTicks, labels: zLabels, font: 12, pad: 3 },
  datasets: logZc.map((lz, i) => series(freq, lz.map(e => 10 ** e), i, 3.2)),
  legend: { box: [338, 269, 50, 103], row0: 281, step: 14.5, line: [345, 367], mark: 356, text: 369, font: serifLegend, r: 3.3 }
});
makeChart({
  box: [468, 267, 739, 515], yw: 45, xh: 28, padT: 8, padR: 12, frame: 'box',
  x: { type: 'logarithmic', min: 0.00513, max: 1.5e6, major: freqTicks, labels: freqLabels, minor: freqMinor, font: 12, pad: 7, tickLen: 3 },
  y: { min: 0, max: 122.3, major: thetaTicks, labels: thetaLabels, minor: thetaMinor, font: 11, pad: 3 },
  datasets: phC.map((ph, i) => series(freq, ph, i, 3.2)),
  legend: { box: [601, 273, 45, 100], row0: 282, step: 14.2, line: [606, 627], mark: 616, text: 628, font: serifLegend, r: 3.3 }
});

// (d)
makeChart({
  box: [115, 581, 400, 837], yw: 40, xh: 26, padT: 8, padR: 8, frame: 'box',
  x: { type: 'logarithmic', min: 0.0054, max: 9.3e5, major: freqTicks, labels: freqLabels, minor: freqMinor, font: 11, pad: 5, tickLen: 3 },
  y: { type: 'logarithmic', min: 100, max: 8.9e7, major: zTicks, labels: zLabels, font: 11, pad: 3 },
  datasets: logZd.map((lz, i) => series(freq, lz.map(e => 10 ** e), i, 3.2)),
  legend: { box: [345, 598, 47, 100], row0: 607, step: 14.2, line: [350, 372], mark: 361, text: 375, font: serifLegend, r: 3.3 }
});
makeChart({
  box: [459, 579, 744, 837], yw: 45, xh: 26, padT: 8, padR: 12, frame: 'box',
  x: { type: 'logarithmic', min: 0.00513, max: 9.3e5, major: freqTicks, labels: freqLabels, minor: freqMinor, font: 11, pad: 5, tickLen: 3 },
  y: { min: 0, max: 122.5, major: thetaTicks, labels: thetaLabels, minor: thetaMinor, font: 11, pad: 3 },
  datasets: phD.map((ph, i) => series(freq, ph, i, 3.2)),
  legend: { box: [539, 586, 48, 106], row0: 596, step: 14.9, line: [545, 567], mark: 556, text: 570, font: serifLegend, r: 3.3 }
});
</script>
</body>
</html>
